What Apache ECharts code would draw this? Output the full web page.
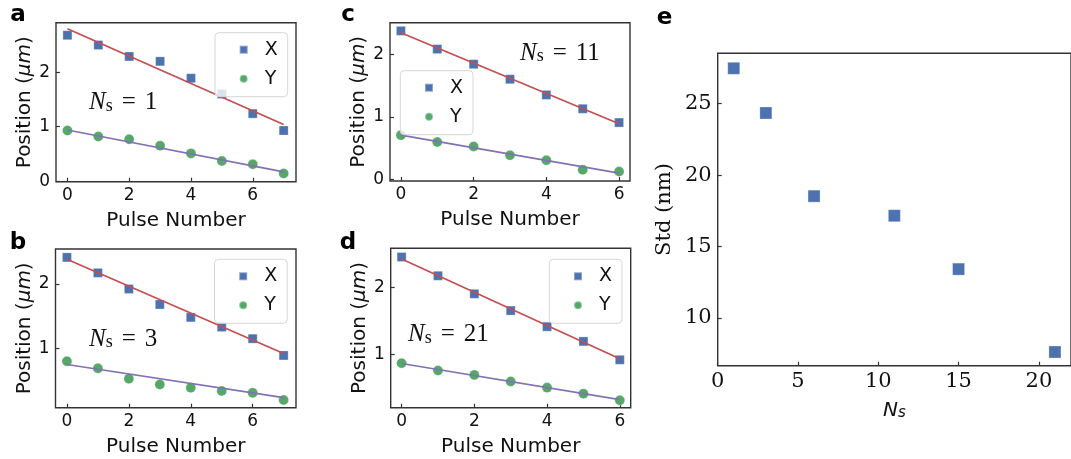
<!DOCTYPE html>
<html>
<head>
<meta charset="utf-8">
<script src="https://cdn.jsdelivr.net/npm/echarts@6/dist/echarts.min.js"></script>
<style>
html,body{margin:0;padding:0;background:#fff;}
#c{width:1071px;height:459px;}
</style>
</head>
<body>
<div id="c"></div>
<script>
// ---------- data ----------
const pulseA = [0, 1, 2, 3, 4, 5, 6, 7];
const aX = [2.68, 2.50, 2.29, 2.20, 1.89, 1.60, 1.24, 0.93];
const aY = [0.93, 0.82, 0.77, 0.65, 0.51, 0.37, 0.31, 0.14];
const aFitXEnds = [2.80, 1.04];
const aFitYEnds = [0.94, 0.17];

const pulseB = [0, 1, 2, 3, 4, 5, 6, 7];
const bX = [2.41, 2.17, 1.92, 1.68, 1.48, 1.33, 1.15, 0.89];
const bY = [0.80, 0.69, 0.53, 0.44, 0.39, 0.34, 0.31, 0.20];
const bFitXEnds = [2.38, 0.92];
const bFitYEnds = [0.75, 0.235];

const pulseC = [0, 1, 2, 3, 4, 5, 6];
const cX = [2.37, 2.08, 1.84, 1.60, 1.35, 1.13, 0.91];
const cY = [0.71, 0.60, 0.53, 0.39, 0.31, 0.16, 0.13];
const cFitXEnds = [2.34, 0.89];
const cFitYEnds = [0.71, 0.105];

const pulseD = [0, 1, 2, 3, 4, 5, 6];
const dX = [2.45, 2.17, 1.90, 1.65, 1.41, 1.19, 0.915];
const dY = [0.865, 0.755, 0.69, 0.59, 0.50, 0.41, 0.31];
const dFitXEnds = [2.42, 0.93];
const dFitYEnds = [0.86, 0.32];

const nsValues = [1, 3, 6, 11, 15, 21];
const stdValues = [27.48, 24.35, 18.53, 17.16, 13.42, 7.62];

const pulseTicks = [0, 2, 4, 6];
const posTicksAC = [0, 1, 2];
const posTicksBD = [1, 2];
const nsTicks = [0, 5, 10, 15, 20];
const stdTicks = [10, 15, 20, 25];

const panelNs = ['1', '3', '11', '21'];

// ---------- styles ----------
const BLUE = '#4C72B0', GREEN = '#55A868', RED = '#C44E52', PURPLE = '#8172B2';
const SPINE = '#333333';
const SANS = '"DejaVu Sans", sans-serif';
const SERIF = '"DejaVu Serif", serif';

const grids = [
  {left: 56,    top: 22.7,  width: 240,   height: 159},
  {left: 55.5,  top: 249,   width: 240.5, height: 158.7},
  {left: 390,   top: 22.7,  width: 240,   height: 158.3},
  {left: 390.7, top: 248.3, width: 240,   height: 159.4},
  {left: 717.7, top: 53.3,  width: 354.6, height: 312.4}
].map(g => Object.assign({show: true, borderColor: SPINE, borderWidth: 1.4, backgroundColor: 'transparent'}, g));

function xAx(gi, min, max, ticks, name, font, fontSize, nameOpts) {
  return Object.assign({
    type: 'value', gridIndex: gi, min: min, max: max, position: 'bottom',
    axisLine: {show: false, onZero: false},
    splitLine: {show: false},
    axisTick: {show: true, inside: true, length: 4, customValues: ticks, lineStyle: {color: SPINE, width: 1.2}},
    axisLabel: {customValues: ticks, margin: 5, color: '#111', fontFamily: font, fontSize: fontSize},
    name: name, nameLocation: 'middle', nameGap: 29,
    nameTextStyle: {color: '#111', fontFamily: SANS, fontSize: 20}
  }, nameOpts || {});
}
function yAx(gi, min, max, ticks, name, font, fontSize, nameOpts) {
  return Object.assign({
    type: 'value', gridIndex: gi, min: min, max: max, position: 'left',
    axisLine: {show: false, onZero: false},
    splitLine: {show: false},
    axisTick: {show: true, inside: true, length: 4, customValues: ticks, lineStyle: {color: SPINE, width: 1.2}},
    axisLabel: {customValues: ticks, margin: 6, color: '#111', fontFamily: font, fontSize: fontSize},
    name: name, nameLocation: 'middle', nameGap: 20, nameRotate: 90,
    nameTextStyle: {color: '#111', fontFamily: SANS, fontSize: 20,
      rich: {i: {fontFamily: SANS, fontStyle: 'italic', fontSize: 20, color: '#111'}}}
  }, nameOpts || {});
}

const posName = 'Position ({i|μm})';
const xAxes = [
  xAx(0, -0.37, 7.4, pulseTicks, 'Pulse Number', SANS, 17),
  xAx(1, -0.37, 7.4, pulseTicks, 'Pulse Number', SANS, 17),
  xAx(2, -0.3, 6.3, pulseTicks, 'Pulse Number', SANS, 17),
  xAx(3, -0.3, 6.3, pulseTicks, 'Pulse Number', SANS, 17),
  xAx(4, 0, 22, nsTicks, '{n|N}{s|s}', SERIF, 21, {
    nameGap: 33,
    nameTextStyle: {color: '#111', fontSize: 20, rich: {
      n: {fontFamily: SANS, fontStyle: 'italic', fontSize: 20, color: '#111', lineHeight: 22, verticalAlign: 'bottom'},
      s: {fontFamily: SANS, fontStyle: 'italic', fontSize: 15, color: '#111', lineHeight: 14, verticalAlign: 'bottom'}
    }}
  })
];
const yAxes = [
  yAx(0, -0.01, 2.91, posTicksAC, posName, SANS, 17),
  yAx(1, 0.08, 2.54, posTicksBD, posName, SANS, 17),
  yAx(2, -0.02, 2.50, posTicksAC, posName, SANS, 17),
  yAx(3, 0.20, 2.58, posTicksBD, posName, SANS, 17),
  yAx(4, 6.66, 28.53, stdTicks, 'Std (nm)', SERIF, 21, {
    nameGap: 43,
    nameTextStyle: {color: '#111', fontFamily: SERIF, fontSize: 21}
  })
];

const panels = [
  {p: pulseA, x: aX, y: aY, fx: aFitXEnds, fy: aFitYEnds},
  {p: pulseB, x: bX, y: bY, fx: bFitXEnds, fy: bFitYEnds},
  {p: pulseC, x: cX, y: cY, fx: cFitXEnds, fy: cFitYEnds},
  {p: pulseD, x: dX, y: dY, fx: dFitXEnds, fy: dFitYEnds}
];

const series = [];
panels.forEach((pn, i) => {
  const last = pn.p[pn.p.length - 1];
  series.push({
    type: 'scatter', name: 'X', xAxisIndex: i, yAxisIndex: i, symbol: 'rect', symbolSize: 9, z: 2,
    itemStyle: {color: BLUE, opacity: 1, borderColor: 'rgba(255,255,255,0.35)', borderWidth: 0.8},
    data: pn.p.map((v, k) => [v, pn.x[k]])
  });
  series.push({
    type: 'scatter', name: 'Y', xAxisIndex: i, yAxisIndex: i, symbol: 'circle', symbolSize: 10, z: 2,
    itemStyle: {color: GREEN, opacity: 1, borderColor: 'rgba(255,255,255,0.35)', borderWidth: 0.8},
    data: pn.p.map((v, k) => [v, pn.y[k]])
  });
  series.push({
    type: 'line', name: 'fitX' + i, xAxisIndex: i, yAxisIndex: i, showSymbol: false, z: 3,
    lineStyle: {color: RED, width: 1.7}, data: [[pn.p[0], pn.fx[0]], [last, pn.fx[1]]]
  });
  series.push({
    type: 'line', name: 'fitY' + i, xAxisIndex: i, yAxisIndex: i, showSymbol: false, z: 3,
    lineStyle: {color: PURPLE, width: 1.7}, data: [[pn.p[0], pn.fy[0]], [last, pn.fy[1]]]
  });
});
series.push({
  type: 'scatter', name: 'Std', xAxisIndex: 4, yAxisIndex: 4, symbol: 'rect', symbolSize: 12, z: 2,
  itemStyle: {color: BLUE, opacity: 1, borderColor: 'rgba(255,255,255,0.35)', borderWidth: 0.8},
  data: nsValues.map((v, k) => [v, stdValues[k]])
});

const legendPos = [[215, 32.7], [214.5, 259.3], [400.3, 70.7], [549.3, 259.3]];
const legends = legendPos.map(pp => ({
  data: ['X', 'Y'], orient: 'vertical', left: pp[0], top: pp[1],
  itemWidth: 8, itemHeight: 8, itemGap: 9,
  padding: [7, 10, 8, 23.7],
  backgroundColor: 'rgba(255,255,255,0.8)', borderColor: '#d6d6d6', borderWidth: 1, borderRadius: 4,
  selectedMode: false,
  textStyle: {fontFamily: SANS, fontSize: 19, color: '#111', lineHeight: 20, padding: [0, 0, 0, 12]}
}));

const SER2 = '"Liberation Serif", serif';
const nsRich = {
  n: {fontFamily: SER2, fontStyle: 'italic', fontSize: 25, lineHeight: 26, verticalAlign: 'bottom', fill: '#111', color: '#111'},
  s: {fontFamily: SER2, fontSize: 18, lineHeight: 16, verticalAlign: 'bottom', fill: '#111', color: '#111'},
  e: {fontFamily: SER2, fontSize: 25, lineHeight: 26, verticalAlign: 'bottom', padding: [0, 9, 0, 9], fill: '#111', color: '#111'},
  v: {fontFamily: SER2, fontSize: 25, lineHeight: 26, verticalAlign: 'bottom', fill: '#111', color: '#111'}
};
const nsPos = [[89, 102], [89, 338.5], [520, 52.5], [408, 334]];
const graphics = [];
nsPos.forEach((pp, i) => {
  graphics.push({
    type: 'text', x: pp[0], y: pp[1], z: 10,
    style: {text: '{n|N}{s|s}{e|=}{v|' + panelNs[i] + '}', rich: nsRich, align: 'left', verticalAlign: 'middle', fill: '#111'}
  });
});
const letters = [['a', 18, 15.3], ['b', 18, 243], ['c', 348, 15.3], ['d', 348, 243], ['e', 664.5, 18]];
letters.forEach(l => {
  graphics.push({
    type: 'text', x: l[1], y: l[2], z: 10,
    style: {text: l[0], font: 'bold 23px "DejaVu Sans"', fill: '#000', align: 'center', verticalAlign: 'middle'}
  });
});

const chart = echarts.init(document.getElementById('c'), null, {renderer: 'canvas'});
chart.setOption({
  animation: false,
  backgroundColor: '#ffffff',
  grid: grids,
  xAxis: xAxes,
  yAxis: yAxes,
  legend: legends,
  series: series,
  graphic: graphics
});
</script>
</body>
</html>
